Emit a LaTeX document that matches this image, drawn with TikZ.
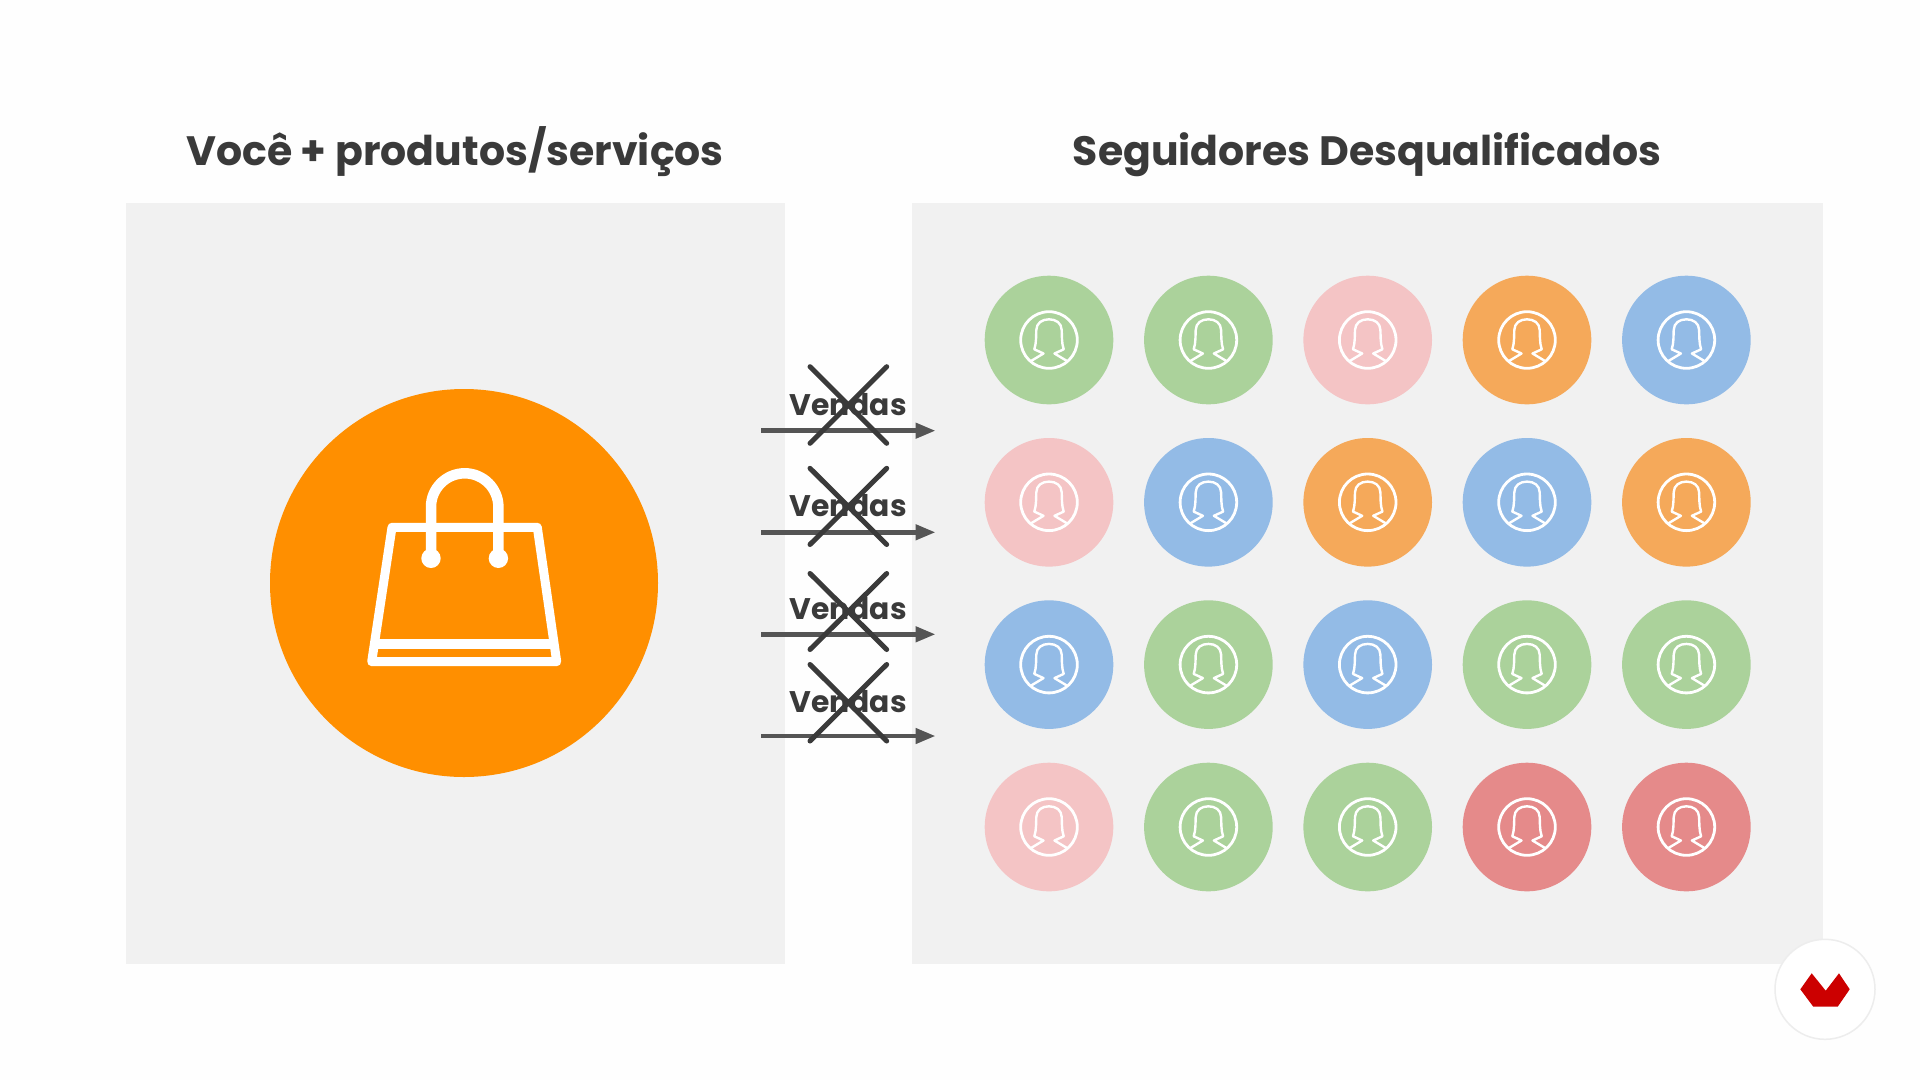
\documentclass[tikz,border=0pt]{standalone}
\usepackage{fontspec}
\setmainfont{Poppins}
\usetikzlibrary{arrows.meta}
\definecolor{pagebg}{HTML}{FEFEFE}
\definecolor{panelbg}{HTML}{F1F1F1}
\definecolor{inkdark}{HTML}{3A3A3A}
\definecolor{arrowgray}{HTML}{555555}
\definecolor{bagorange}{HTML}{FF8F00}
\definecolor{fgreen}{HTML}{ABD29B}
\definecolor{fpink}{HTML}{F4C4C5}
\definecolor{forange}{HTML}{F5A95A}
\definecolor{fblue}{HTML}{93BBE6}
\definecolor{fred}{HTML}{E58A8A}
\definecolor{logored}{HTML}{CC0000}
\begin{document}
\begin{tikzpicture}[
            x=1pt, y=-1pt,
            title/.style={font=\fontsize{41}{48}\selectfont\bfseries, text=inkdark, inner sep=0pt, anchor=base},
            panel/.style={rectangle, fill=panelbg, inner sep=0pt},
            sale/.style={font=\fontsize{29.8}{34}\selectfont\bfseries, text=inkdark, inner sep=0pt, anchor=base},
            flow/.style={-{Triangle[length=20pt,width=15pt]}, line width=4.5pt, draw=arrowgray},
            crossout/.style={line width=5pt, draw=inkdark, line cap=round},
            follower/.style={circle, minimum size=128.6pt, inner sep=0pt, path picture={
                \begin{scope}[shift={(path picture bounding box.center)}, draw=white, line join=round]
                    \draw[line width=2.8pt] (0,0) circle (28.3);
                    \draw[line width=2.4pt] (-18,21) -- (-5.5,13.5) -- (-14.7,9.3)
                        .. controls (-12.5,3) and (-13,-5) .. (-12.7,-10)
                        .. controls (-12.5,-17) and (-7,-20.7) .. (0,-20.7)
                        .. controls (7,-20.7) and (12.5,-17) .. (12.7,-10)
                        .. controls (13,-5) and (12.5,3) .. (14.7,9.3)
                        -- (5.5,13.5) -- (18,21);
                \end{scope}}},
            fgreen/.style={follower, fill=fgreen},
            fpink/.style={follower, fill=fpink},
            forange/.style={follower, fill=forange},
            fblue/.style={follower, fill=fblue},
            fred/.style={follower, fill=fred},
            bagline/.style={draw=white, line join=round, line cap=round}
        ]
        \useasboundingbox (0,0) rectangle (1920,1080);
        \fill[pagebg] (0,0) rectangle (1920,1080);

        % Painéis e títulos
        \node[panel, minimum width=659pt, minimum height=761pt] (left-panel) at (455.5,583.5) {};
        \node[panel, minimum width=911pt, minimum height=761pt] (right-panel) at (1367.5,583.5) {};
        \node[title] (left-title) at (455,165) {Você + produtos/serviços};
        \node[title] (right-title) at (1367,165) {Seguidores Desqualificados};

        % Círculo da sacola
        \node[circle, fill=bagorange, minimum size=388pt, inner sep=0pt] (store) at (464,583) {};
        \draw[bagline, line width=9pt] (392,527.3) -- (537.3,527.3) -- (556.7,661.7) -- (371.7,661.7) -- cycle;
        \draw[bagline, line width=9.5pt, line cap=butt] (376,644) -- (553,644);
        \draw[bagline, line width=10.5pt, line cap=butt] (431,558) -- (431,507) arc[start angle=180, end angle=360, radius=33.7] -- (498.4,558);
        \fill[white] (431,558.3) circle (9.7) (498.4,558.3) circle (9.7);

        % Linha 1
        \node[fgreen] (f11) at (1049,340) {};
        \node[fgreen] (f12) at (1208.4,340) {};
        \node[fpink] (f13) at (1367.7,340) {};
        \node[forange] (f14) at (1527,340) {};
        \node[fblue] (f15) at (1686.4,340) {};
        % Linha 2
        \node[fpink] (f21) at (1049,502.3) {};
        \node[fblue] (f22) at (1208.4,502.3) {};
        \node[forange] (f23) at (1367.7,502.3) {};
        \node[fblue] (f24) at (1527,502.3) {};
        \node[forange] (f25) at (1686.4,502.3) {};
        % Linha 3
        \node[fblue] (f31) at (1049,664.6) {};
        \node[fgreen] (f32) at (1208.4,664.6) {};
        \node[fblue] (f33) at (1367.7,664.6) {};
        \node[fgreen] (f34) at (1527,664.6) {};
        \node[fgreen] (f35) at (1686.4,664.6) {};
        % Linha 4
        \node[fpink] (f41) at (1049,827) {};
        \node[fgreen] (f42) at (1208.4,827) {};
        \node[fgreen] (f43) at (1367.7,827) {};
        \node[fred] (f44) at (1527,827) {};
        \node[fred] (f45) at (1686.4,827) {};

        % Vendas
        \coordinate (out1) at (761,430.7);
        \coordinate (in1) at (935.5,430.7);
        \coordinate (out2) at (761,532.3);
        \coordinate (in2) at (935.5,532.3);
        \coordinate (out3) at (761,634.3);
        \coordinate (in3) at (935.5,634.3);
        \coordinate (out4) at (761,736);
        \coordinate (in4) at (935.5,736);
        \draw[flow] (out1) -- (in1);
        \draw[flow] (out2) -- (in2);
        \draw[flow] (out3) -- (in3);
        \draw[flow] (out4) -- (in4);

        \node[sale] (sale1) at (848,415) {Vendas};
        \node[sale] (sale2) at (848,516.7) {Vendas};
        \node[sale] (sale3) at (848,619) {Vendas};
        \node[sale] (sale4) at (848,712.7) {Vendas};

        % Cruzes
        \draw[crossout] (810,366.7) -- (886.7,443.3) (886.7,366.7) -- (810,443.3);
        \draw[crossout] (810,468.3) -- (886.7,544.5) (886.7,468.3) -- (810,544.5);
        \draw[crossout] (810,573.5) -- (886.7,649.5) (886.7,573.5) -- (810,649.5);
        \draw[crossout] (810,664.5) -- (886.7,741) (886.7,664.5) -- (810,741);

        % Logo
        \node[circle, fill=white, draw=black!7, line width=1.5pt, minimum size=100pt, inner sep=0pt] (logo) at (1825,989.3) {};
        \fill[logored] (1811.7,973.3) -- (1825.7,990.7) -- (1839,973.3) -- (1849.7,989.3) -- (1837.7,1006.7) -- (1813.3,1006.7) -- (1800.3,989.3) -- cycle;

    \end{tikzpicture}
\end{document}
